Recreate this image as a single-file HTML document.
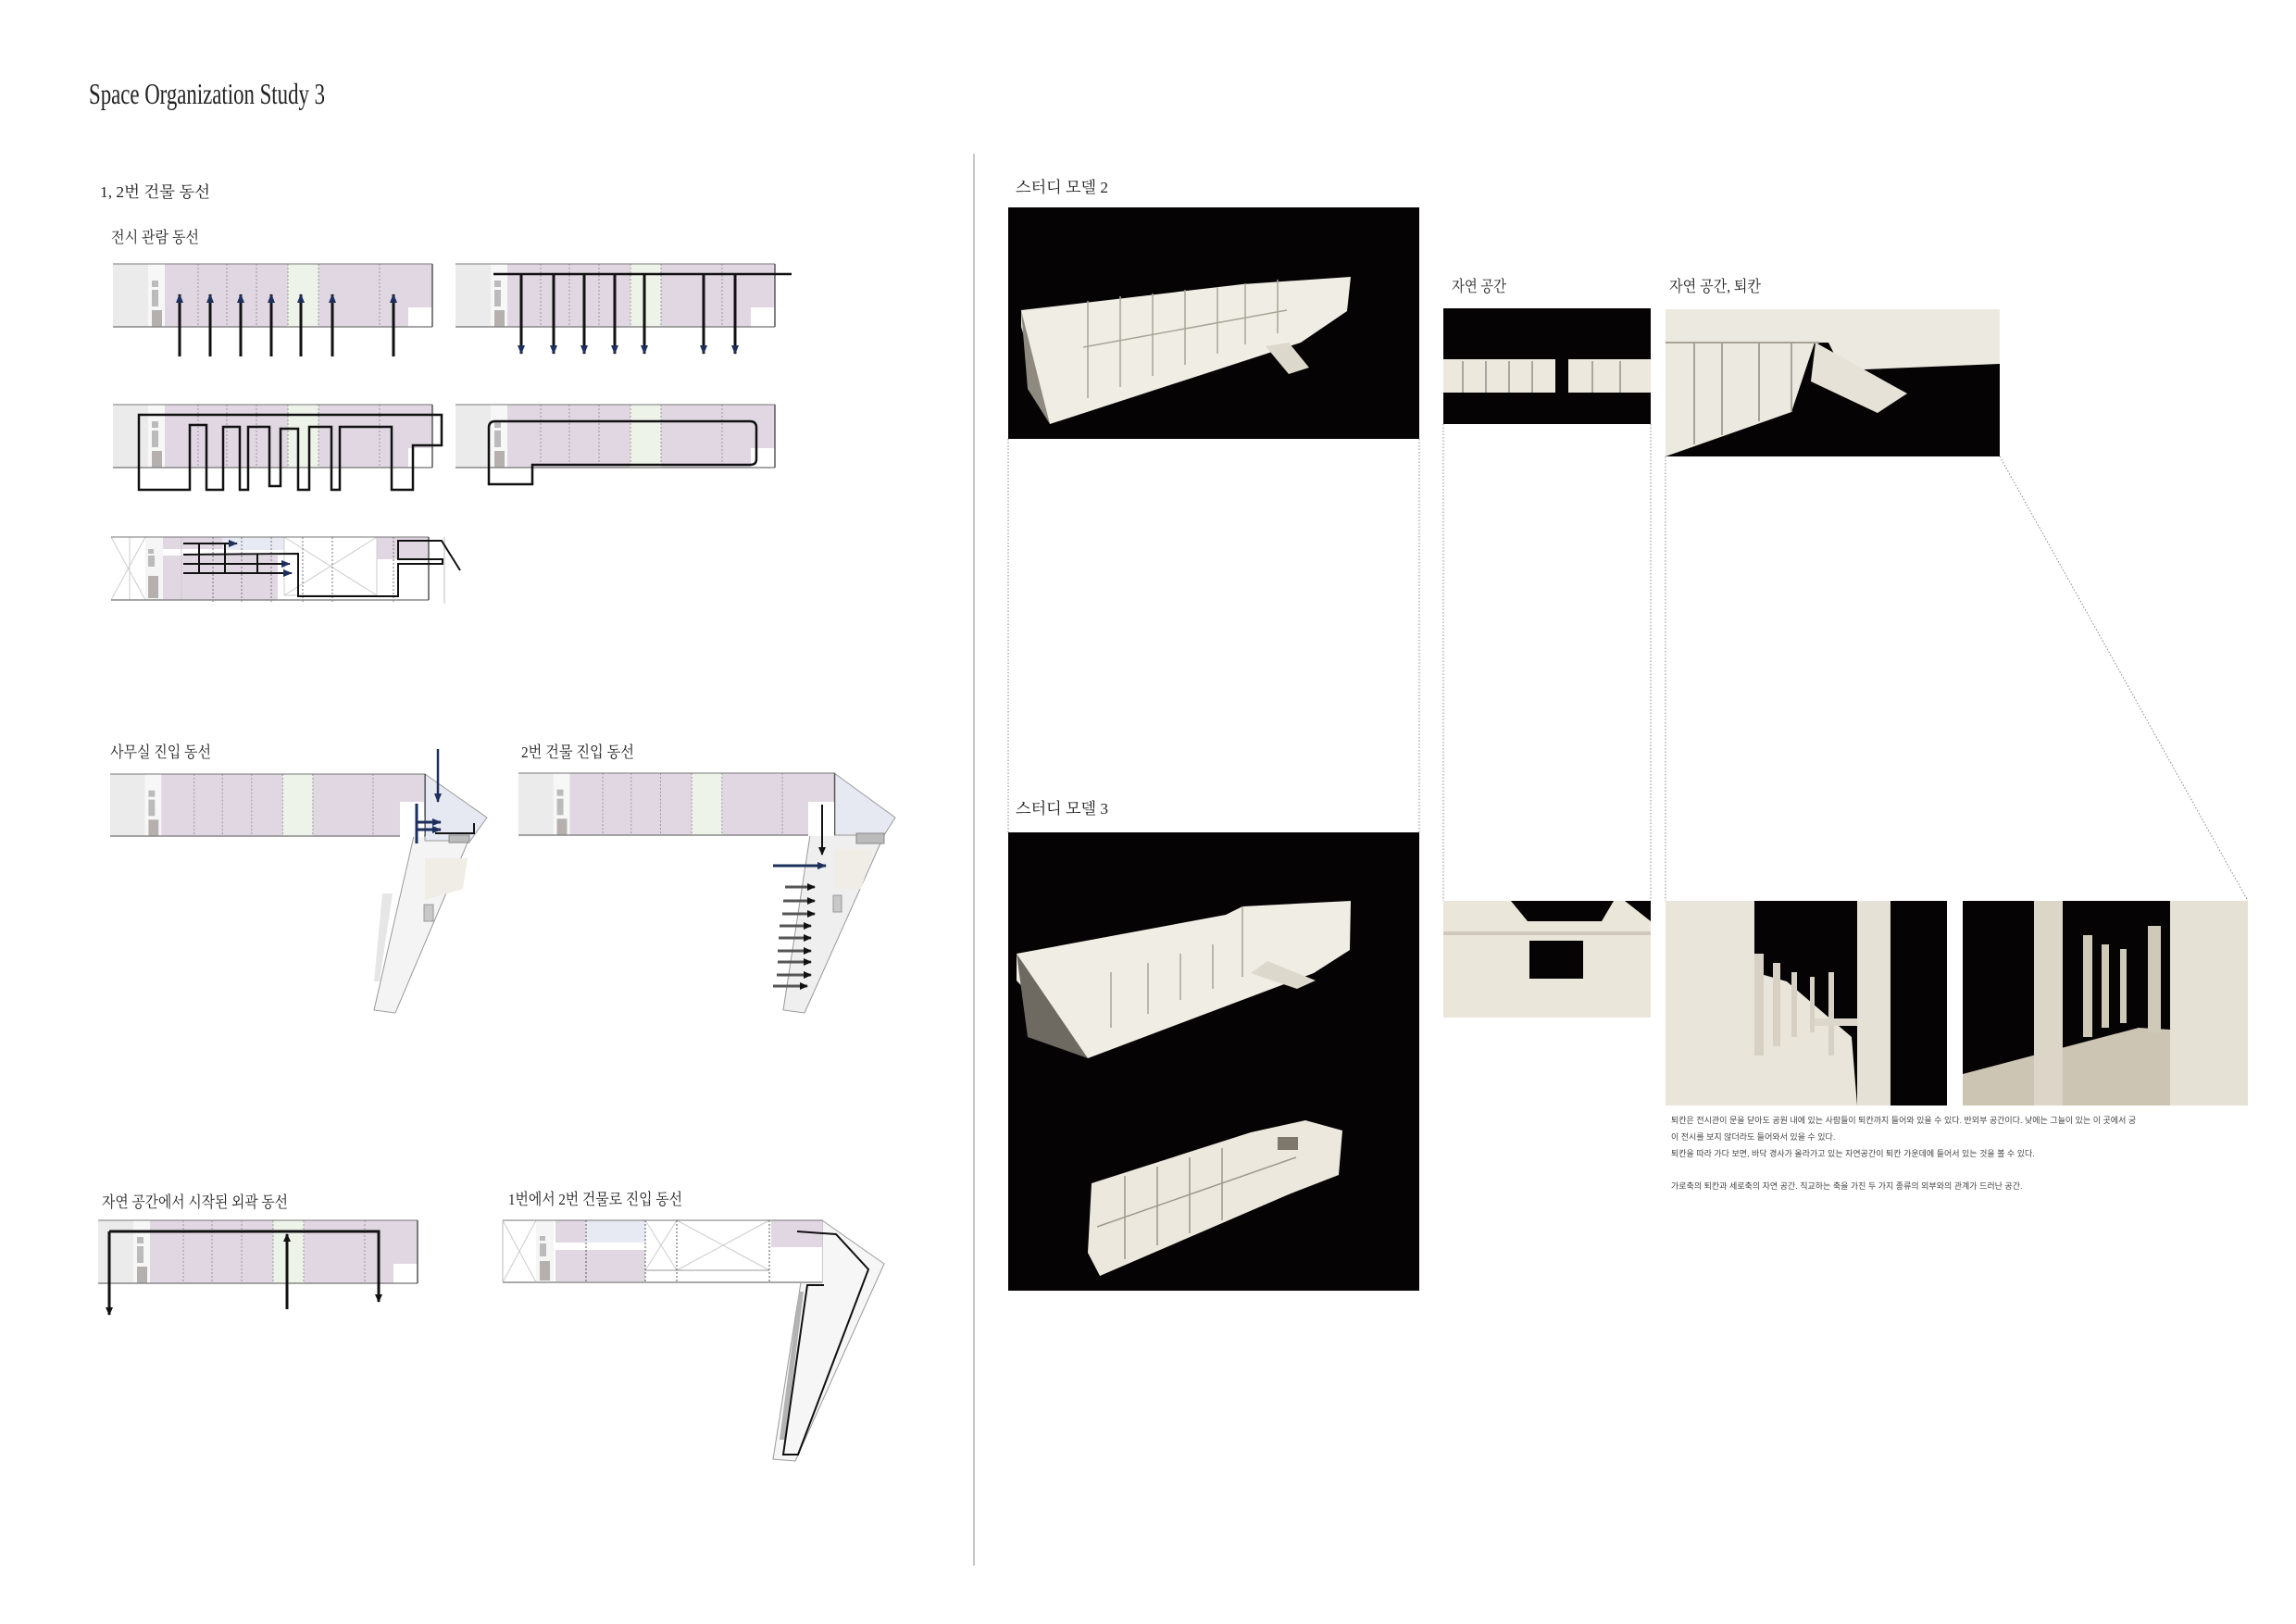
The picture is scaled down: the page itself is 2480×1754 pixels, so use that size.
<!DOCTYPE html>
<html><head><meta charset="utf-8"><style>
html,body{margin:0;padding:0;background:#fff;}
svg{display:block;}
text{font-family:"Liberation Serif","Noto Serif CJK KR","Noto Sans CJK KR",serif;fill:#222;}
.s{font-family:"Liberation Sans","Noto Sans CJK KR",sans-serif;font-size:9px;fill:#444;}
</style></head><body>
<svg width="2480" height="1754" viewBox="0 0 2480 1754" xmlns="http://www.w3.org/2000/svg">
<defs>
<marker id="ah" markerWidth="10" markerHeight="8" refX="9" refY="4" orient="auto" markerUnits="userSpaceOnUse" viewBox="0 0 10 8"><path d="M0,0 L10,4 L0,8 Z" fill="#1d2f5a"/></marker>
<marker id="ar" markerWidth="10" markerHeight="8" refX="9" refY="4" orient="auto" markerUnits="userSpaceOnUse" viewBox="0 0 10 8"><path d="M0,0 L10,4 L0,8 Z" fill="#1d2f5a"/></marker>
<marker id="ak" markerWidth="9" markerHeight="8" refX="8" refY="4" orient="auto" markerUnits="userSpaceOnUse" viewBox="0 0 9 8"><path d="M0,0 L9,4 L0,8 Z" fill="#111"/></marker>
<g id="plan">
<rect x="0" y="0" width="345" height="68" fill="#e1d7e3"/>
<rect x="0" y="0" width="38" height="68" fill="#ebebeb"/>
<rect x="38" y="0" width="18" height="68" fill="#f7f7f7"/>
<rect x="42" y="18" width="7" height="7" fill="#bbb"/>
<rect x="42" y="28" width="7" height="18" fill="#bbb"/>
<rect x="42" y="50" width="11" height="18" fill="#b5b0ad"/>
<rect x="189" y="0" width="33" height="68" fill="#eef3ea"/>
<rect x="319" y="47" width="26" height="21" fill="#fff"/>
<g stroke="#999" stroke-width="1" stroke-dasharray="2,2">
<line x1="92" y1="0" x2="92" y2="68"/><line x1="123" y1="0" x2="123" y2="68"/><line x1="155" y1="0" x2="155" y2="68"/><line x1="189" y1="0" x2="189" y2="68"/><line x1="222" y1="0" x2="222" y2="68"/><line x1="288" y1="0" x2="288" y2="68"/>
</g>
<line x1="0" y1="0" x2="345" y2="0" stroke="#777" stroke-width="1"/>
<line x1="0" y1="68" x2="345" y2="68" stroke="#888" stroke-width="1.5"/>
<line x1="345" y1="0" x2="345" y2="68" stroke="#555" stroke-width="1.5"/>
</g>
</defs>

<text x="96" y="112" font-size="32" textLength="255" lengthAdjust="spacingAndGlyphs">Space Organization Study 3</text>
<text x="108" y="213" font-size="17" textLength="119" lengthAdjust="spacingAndGlyphs">1, 2번 건물 동선</text>
<text x="120" y="262" font-size="17" textLength="95" lengthAdjust="spacingAndGlyphs">전시 관람 동선</text>

<line x1="1052" y1="166" x2="1052" y2="1691" stroke="#c8c8c8" stroke-width="2"/>

<use href="#plan" transform="translate(122,285)"/>
<g stroke="#111" stroke-width="3" marker-end="url(#ah)">
<line x1="194" y1="385" x2="194" y2="318"/><line x1="227" y1="385" x2="227" y2="318"/><line x1="260" y1="385" x2="260" y2="318"/><line x1="293" y1="385" x2="293" y2="318"/><line x1="325" y1="385" x2="325" y2="318"/><line x1="359" y1="385" x2="359" y2="318"/><line x1="425" y1="385" x2="425" y2="318"/>
</g>
<use href="#plan" transform="translate(492,285)"/>
<line x1="533" y1="296" x2="855" y2="296" stroke="#111" stroke-width="2.5"/>
<g stroke="#111" stroke-width="3" marker-end="url(#ah)">
<line x1="563" y1="296" x2="563" y2="382"/><line x1="598" y1="296" x2="598" y2="382"/><line x1="631" y1="296" x2="631" y2="382"/><line x1="664" y1="296" x2="664" y2="382"/><line x1="696" y1="296" x2="696" y2="382"/><line x1="760" y1="296" x2="760" y2="382"/><line x1="794" y1="296" x2="794" y2="382"/>
</g>

<use href="#plan" transform="translate(122,437)"/>
<path d="M150,529 L150,448 L477,448 L477,481 L446,481 L446,529 L423,529 L423,461 L367,461 L367,529 L358,529 L358,461 L334,461 L334,529 L322,529 L322,463 L303,463 L303,525 L291,525 L291,461 L268,461 L268,529 L259,529 L259,461 L241,461 L241,529 L223,529 L223,459 L205,459 L205,529 Z" fill="none" stroke="#111" stroke-width="2.5"/>
<use href="#plan" transform="translate(492,437)"/>
<path d="M528,523 L528,462 Q528,455 535,455 L810,455 Q817,455 817,462 L817,496 Q817,502 810,502 L575,502 L575,523 Z" fill="none" stroke="#111" stroke-width="2.5"/>

<g>
<rect x="120" y="580" width="343" height="68" fill="#fff"/>
<rect x="176" y="580" width="64" height="13" fill="#e1d7e3"/>
<rect x="240" y="580" width="67" height="14" fill="#e8eaf3"/>
<rect x="176" y="600" width="124" height="48" fill="#e1d7e3"/>
<rect x="407" y="580" width="56" height="24" fill="#e1d7e3"/>
<rect x="157" y="580" width="19" height="68" fill="#f5f5f5"/>
<rect x="160" y="593" width="6" height="5" fill="#bbb"/><rect x="160" y="600" width="7" height="12" fill="#bbb"/><rect x="160" y="622" width="11" height="24" fill="#b5b0ad"/>
<g stroke="#ccc" stroke-width="1" fill="none">
<path d="M120,580 L157,648 M157,580 L120,648"/><rect x="307" y="580" width="100" height="63"/><path d="M307,580 L407,643 M407,580 L307,643"/><line x1="140" y1="580" x2="140" y2="648"/><line x1="196" y1="580" x2="196" y2="648"/>
</g>
<g stroke="#777" stroke-dasharray="2,2"><line x1="230" y1="580" x2="230" y2="652"/><line x1="261" y1="580" x2="261" y2="652"/><line x1="293" y1="580" x2="293" y2="652"/><line x1="327" y1="580" x2="327" y2="652"/><line x1="359" y1="580" x2="359" y2="652"/><line x1="425" y1="580" x2="425" y2="652"/></g>
<line x1="120" y1="580" x2="463" y2="580" stroke="#777"/><line x1="120" y1="648" x2="463" y2="648" stroke="#888" stroke-width="1.5"/><line x1="463" y1="580" x2="463" y2="648" stroke="#555" stroke-width="1.5"/><line x1="480" y1="580" x2="480" y2="652" stroke="#ddd" stroke-width="2"/>
<g stroke="#111" stroke-width="2" fill="none">
<line x1="198" y1="587" x2="256" y2="587" marker-end="url(#ar)"/>
<line x1="198" y1="609" x2="313" y2="609" marker-end="url(#ar)"/>
<line x1="198" y1="619" x2="315" y2="619" marker-end="url(#ar)"/>
<path d="M198,599 L322,598 L322,644 L430,644 L430,609 L478,609 L478,604 L430,604 L430,584 L477,584 L497,616"/>
<line x1="215" y1="587" x2="215" y2="619"/><line x1="243" y1="587" x2="243" y2="619"/><line x1="278" y1="599" x2="278" y2="619"/>
</g>
</g>

<text x="119" y="818" font-size="17" textLength="109" lengthAdjust="spacingAndGlyphs">사무실 진입 동선</text>
<text x="563" y="818" font-size="17" textLength="122" lengthAdjust="spacingAndGlyphs">2번 건물 진입 동선</text>
<polygon points="447,903 508,903 427,1094 404,1091" fill="#f4f4f4" stroke="#999" stroke-width="1"/>
<polygon points="413,965 424,965 410,1060 404,1060" fill="#e6e6e6"/>
<rect x="458" y="977" width="10" height="18" fill="#c8c8c8" stroke="#999"/>
<polygon points="459,927 505,927 500,960 459,972" fill="#f0ede6"/>
<polygon points="459,836 526,883 508,908 459,908" fill="#e6e8f2" stroke="#999"/>
<use href="#plan" transform="translate(119,836) scale(0.986,0.985)"/>
<rect x="432" y="866" width="26" height="38" fill="#fff"/>
<rect x="485" y="902" width="22" height="8" fill="#bbb" stroke="#888"/>
<line x1="473" y1="809" x2="473" y2="866" stroke="#1d2f5a" stroke-width="2.5" marker-end="url(#ah)"/>
<line x1="450" y1="868" x2="450" y2="911" stroke="#1d2f5a" stroke-width="3"/>
<line x1="450" y1="888" x2="476" y2="888" stroke="#1d2f5a" stroke-width="3" marker-end="url(#ar)"/>
<line x1="450" y1="896" x2="476" y2="896" stroke="#1d2f5a" stroke-width="3" marker-end="url(#ar)"/>
<path d="M470,900 L512,900 L512,889" fill="none" stroke="#111" stroke-width="2"/>
<polygon points="875,902 955,902 869,1094 846,1091" fill="#efefef" stroke="#999" stroke-width="1"/>
<polygon points="901,917 944,917 930,960 901,960" fill="#f0ede6"/>
<rect x="900" y="967" width="9" height="18" fill="#c8c8c8" stroke="#999"/>
<polygon points="901,835 967,883 955,902 901,902" fill="#e6e8f2" stroke="#999"/>
<use href="#plan" transform="translate(560,835) scale(0.99,0.985)"/>
<rect x="873" y="866" width="28" height="37" fill="#fff"/>
<rect x="925" y="900" width="30" height="11" fill="#bbb" stroke="#888"/>
<line x1="888" y1="869" x2="888" y2="923" stroke="#111" stroke-width="2" marker-end="url(#ak)"/>
<line x1="835" y1="935" x2="892" y2="935" stroke="#1d2f5a" stroke-width="3" marker-end="url(#ar)"/>
<g stroke="#555" stroke-width="3" marker-end="url(#ak)">
<line x1="848" y1="958" x2="880" y2="958"/><line x1="846" y1="973" x2="880" y2="973"/><line x1="845" y1="987" x2="880" y2="987"/><line x1="842" y1="1000" x2="876" y2="1000"/><line x1="841" y1="1013" x2="876" y2="1013"/><line x1="840" y1="1027" x2="876" y2="1027"/><line x1="840" y1="1039" x2="876" y2="1039"/><line x1="839" y1="1053" x2="876" y2="1053"/><line x1="835" y1="1065" x2="872" y2="1065"/>
</g>

<text x="110" y="1304" font-size="17" textLength="201" lengthAdjust="spacingAndGlyphs">자연 공간에서 시작된 외곽 동선</text>
<text x="549" y="1301" font-size="17" textLength="188" lengthAdjust="spacingAndGlyphs">1번에서 2번 건물로 진입 동선</text>
<use href="#plan" transform="translate(106,1318)"/>
<path d="M118,1330 L409,1330 L409,1406" fill="none" stroke="#111" stroke-width="3" marker-end="url(#ak)"/>
<line x1="310" y1="1414" x2="310" y2="1333" stroke="#111" stroke-width="3" marker-end="url(#ak)"/>
<line x1="118" y1="1330" x2="118" y2="1420" stroke="#111" stroke-width="3" marker-end="url(#ak)"/>
<polygon points="888,1318 955,1365 859,1578 835,1576 865,1385 888,1385" fill="#f6f6f6" stroke="#999"/>
<polygon points="863,1395 868,1395 848,1555 842,1555" fill="#b3b3b3"/>
<rect x="543" y="1318" width="345" height="67" fill="#fff"/>
<rect x="600" y="1318" width="32" height="24" fill="#e1d7e3"/><rect x="632" y="1318" width="65" height="24" fill="#e8eaf3"/>
<rect x="600" y="1350" width="97" height="35" fill="#e1d7e3"/><rect x="833" y="1318" width="55" height="29" fill="#e1d7e3"/>
<rect x="579" y="1318" width="19" height="67" fill="#f5f5f5"/><rect x="583" y="1335" width="6" height="5" fill="#bbb"/><rect x="583" y="1343" width="7" height="14" fill="#bbb"/><rect x="583" y="1362" width="11" height="21" fill="#b5b0ad"/>
<g stroke="#ccc" fill="none"><path d="M543,1318 L579,1385 M579,1318 L543,1385"/><path d="M697,1318 L731,1372 M731,1318 L697,1372"/><path d="M731,1318 L831,1372 M831,1318 L731,1372"/><line x1="697" y1="1372" x2="831" y2="1372" stroke="#999"/></g>
<g stroke="#555" stroke-dasharray="2,2"><line x1="633" y1="1318" x2="633" y2="1385"/><line x1="697" y1="1318" x2="697" y2="1385"/><line x1="731" y1="1318" x2="731" y2="1385"/><line x1="831" y1="1318" x2="831" y2="1385"/></g>
<line x1="543" y1="1318" x2="888" y2="1318" stroke="#777"/><line x1="543" y1="1385" x2="888" y2="1385" stroke="#aaa" stroke-width="2"/><line x1="543" y1="1318" x2="543" y2="1385" stroke="#bbb"/>
<path d="M861,1330 L903,1333 L938,1371 L862,1571 L846,1571 L872,1388 L890,1388" fill="none" stroke="#111" stroke-width="2"/>

<text x="1097" y="208" font-size="17" textLength="100" lengthAdjust="spacingAndGlyphs">스터디 모델 2</text>
<text x="1097" y="879" font-size="17" textLength="100" lengthAdjust="spacingAndGlyphs">스터디 모델 3</text>
<text x="1568" y="315" font-size="17" textLength="59" lengthAdjust="spacingAndGlyphs">자연 공간</text>
<text x="1803" y="315" font-size="17" textLength="99" lengthAdjust="spacingAndGlyphs">자연 공간, 퇴칸</text>

<g stroke="#888" stroke-width="1" stroke-dasharray="1.5,2" fill="none">
<line x1="1089" y1="474" x2="1089" y2="899"/><line x1="1533" y1="474" x2="1533" y2="899"/>
<line x1="1559" y1="458" x2="1559" y2="973"/><line x1="1783" y1="458" x2="1783" y2="973"/>
<line x1="1799" y1="493" x2="1799" y2="973"/><line x1="2160" y1="493" x2="2428" y2="973"/>
</g>

<rect x="1089" y="224" width="444" height="250" fill="#050304"/>
<polygon points="1103,335 1342,307 1459,299 1455,336 1405,370 1134,458 1103,353" fill="#f0ede5"/>
<polygon points="1103,335 1134,458 1110,420" fill="#8e8a80"/>
<g stroke="#a9a496" stroke-width="1.5" fill="none">
<line x1="1175" y1="325" x2="1175" y2="430"/><line x1="1210" y1="320" x2="1210" y2="418"/><line x1="1245" y1="317" x2="1245" y2="406"/><line x1="1280" y1="313" x2="1280" y2="394"/><line x1="1315" y1="310" x2="1315" y2="382"/><line x1="1345" y1="306" x2="1345" y2="372"/>
<line x1="1170" y1="375" x2="1390" y2="335"/><line x1="1380" y1="302" x2="1380" y2="360"/>
</g>
<polygon points="1367,374 1392,370 1414,397 1392,404" fill="#ddd8cc"/>
<rect x="1089" y="899" width="444" height="495" fill="#050304"/>
<polygon points="1098,1030 1324,988 1342,979 1459,973 1458,1026 1419,1051 1175,1143 1098,1059" fill="#f0ede5"/>
<polygon points="1098,1030 1175,1143 1110,1120" fill="#6e6a62"/>
<g stroke="#aaa596" stroke-width="1.5"><line x1="1200" y1="1050" x2="1200" y2="1110"/><line x1="1240" y1="1040" x2="1240" y2="1095"/><line x1="1275" y1="1030" x2="1275" y2="1080"/><line x1="1310" y1="1020" x2="1310" y2="1068"/><line x1="1342" y1="979" x2="1342" y2="1055"/></g>
<polygon points="1369,1038 1421,1059 1401,1068 1351,1051" fill="#ddd8cc"/>
<polygon points="1179,1278 1351,1223 1410,1210 1450,1221 1446,1269 1392,1290 1188,1378 1175,1353" fill="#ece8de"/>
<g stroke="#9d988b" stroke-width="1.5"><line x1="1215" y1="1270" x2="1215" y2="1360"/><line x1="1250" y1="1260" x2="1250" y2="1345"/><line x1="1285" y1="1250" x2="1285" y2="1332"/><line x1="1320" y1="1240" x2="1320" y2="1318"/><line x1="1185" y1="1325" x2="1400" y2="1250"/></g>
<rect x="1380" y="1228" width="22" height="14" fill="#7d776c"/>
<rect x="1559" y="333" width="224" height="125" fill="#050304"/>
<rect x="1559" y="388" width="224" height="36" fill="#ece8de"/>
<g stroke="#666" stroke-width="1"><line x1="1580" y1="390" x2="1580" y2="424"/><line x1="1605" y1="390" x2="1605" y2="424"/><line x1="1630" y1="390" x2="1630" y2="424"/><line x1="1655" y1="390" x2="1655" y2="424"/><line x1="1720" y1="390" x2="1720" y2="424"/><line x1="1750" y1="390" x2="1750" y2="424"/></g>
<rect x="1680" y="388" width="14" height="36" fill="#050304"/>
<rect x="1799" y="334" width="361" height="159" fill="#050304"/>
<polygon points="1799,334 2160,334 2160,393 1990,400 1975,370 1960,370 1935,445 1799,493" fill="#ece9e0"/>
<g stroke="#a8a396" stroke-width="2"><line x1="1799" y1="370" x2="1965" y2="370"/><line x1="1830" y1="370" x2="1830" y2="480"/><line x1="1860" y1="370" x2="1860" y2="470"/><line x1="1900" y1="370" x2="1900" y2="455"/><line x1="1935" y1="370" x2="1935" y2="445"/></g>
<polygon points="1961,370 2060,425 2028,446 1956,412" fill="#e6e2d8"/>
<rect x="1559" y="973" width="224" height="126" fill="#ebe6da"/>
<polygon points="1632,973 1743,973 1730,995 1650,995" fill="#050304"/>
<polygon points="1755,973 1783,973 1783,995" fill="#050304"/>
<rect x="1652" y="1016" width="58" height="41" fill="#050304"/>
<line x1="1559" y1="1008" x2="1783" y2="1008" stroke="#cfc9bb" stroke-width="4"/>
<rect x="1799" y="973" width="304" height="221" fill="#050304"/>
<polygon points="1799,973 1895,973 1895,1050 1930,1060 2000,1120 2006,1194 1799,1194" fill="#e9e5db"/>
<rect x="2006" y="973" width="36" height="221" fill="#e5e1d6"/>
<g fill="#d6d1c4"><rect x="1895" y="1030" width="10" height="110"/><rect x="1915" y="1040" width="8" height="90"/><rect x="1935" y="1050" width="6" height="70"/><rect x="1955" y="1055" width="5" height="60"/><rect x="1975" y="1050" width="6" height="90"/></g>
<rect x="1960" y="1100" width="46" height="8" fill="#dcd7ca"/>
<rect x="2120" y="973" width="308" height="221" fill="#050304"/>
<polygon points="2120,1160 2310,1110 2428,1117 2428,1194 2120,1194" fill="#cdc5b4"/>
<rect x="2344" y="973" width="84" height="221" fill="#e6e1d5"/>
<rect x="2197" y="973" width="31" height="221" fill="#dcd6c8"/>
<g fill="#cfc9ba"><rect x="2250" y="1010" width="10" height="110"/><rect x="2270" y="1020" width="8" height="90"/><rect x="2290" y="1025" width="7" height="80"/><rect x="2320" y="1000" width="14" height="115"/></g>

<text class="s" x="1805" y="1213">퇴칸은 전시관이 문을 닫아도 공원 내에 있는 사람들이 퇴칸까지 들어와 있을 수 있다.  반외부 공간이다. 낮에는 그늘이 있는 이 곳에서 궁</text>
<text class="s" x="1805" y="1231">이 전시를 보지 않더라도 들어와서 있을 수 있다.</text>
<text class="s" x="1805" y="1249">퇴칸을 따라 가다 보면, 바닥 경사가 올라가고 있는 자연공간이 퇴칸 가운데에 들어서 있는 것을 볼 수 있다.</text>
<text class="s" x="1805" y="1284">가로축의 퇴칸과 세로축의 자연 공간. 직교하는 축을 가진 두 가지 종류의 외부와의 관계가 드러난 공간.</text>
</svg>
</body></html>
